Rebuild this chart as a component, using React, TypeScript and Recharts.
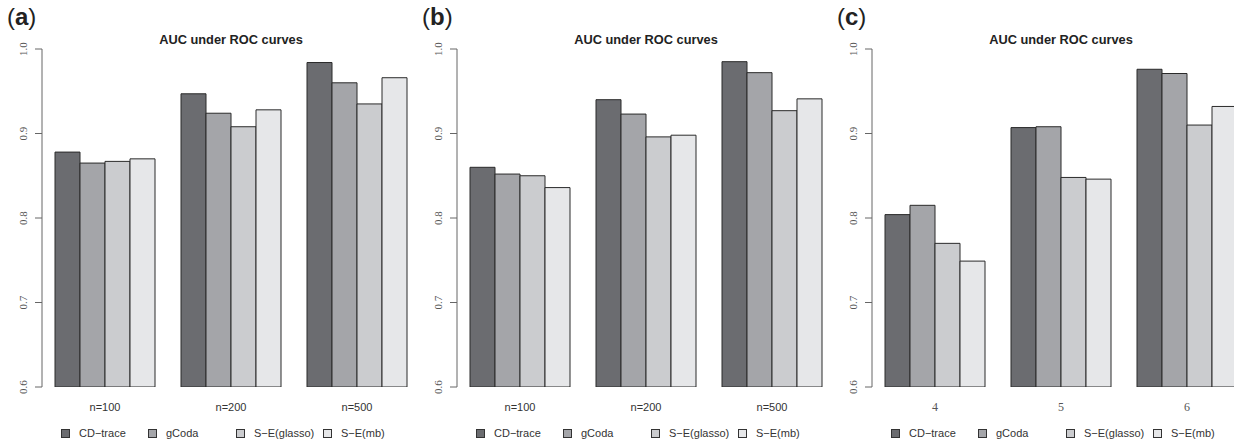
import { BarChart, Bar, XAxis, YAxis } from "recharts";

const seriesNames = ["CD\u2212trace", "gCoda", "S\u2212E(glasso)", "S\u2212E(mb)"];
const seriesKeys = ["cdTrace", "gCoda", "seGlasso", "seMb"];
const seriesColors = ["#6b6c70", "#a4a5a9", "#cbcccf", "#e6e7e9"];

const sampleSizes = ["n=100", "n=200", "n=500"];
const dimensions = ["4", "5", "6"];
const yTicks = [0.6, 0.7, 0.8, 0.9, 1.0];

// panel (a)
const aCdTrace = [0.878, 0.947, 0.984];
const aGCoda = [0.865, 0.924, 0.960];
const aSeGlasso = [0.867, 0.908, 0.935];
const aSeMb = [0.870, 0.928, 0.966];

// panel (b)
const bCdTrace = [0.860, 0.940, 0.985];
const bGCoda = [0.852, 0.923, 0.972];
const bSeGlasso = [0.850, 0.896, 0.927];
const bSeMb = [0.836, 0.898, 0.941];

// panel (c)
const cCdTrace = [0.804, 0.907, 0.976];
const cGCoda = [0.815, 0.908, 0.971];
const cSeGlasso = [0.770, 0.848, 0.910];
const cSeMb = [0.749, 0.846, 0.932];

const buildRows = (cats: string[], cols: number[][]) =>
  cats.map((name, i) => {
    const row: any = { name };
    seriesKeys.forEach((k, j) => (row[k] = cols[j][i]));
    return row;
  });

const panels = [
  { label: "a", left: 0, serifX: false, data: buildRows(sampleSizes, [aCdTrace, aGCoda, aSeGlasso, aSeMb]) },
  { label: "b", left: 415, serifX: false, data: buildRows(sampleSizes, [bCdTrace, bGCoda, bSeGlasso, bSeMb]) },
  { label: "c", left: 830, serifX: true, data: buildRows(dimensions, [cCdTrace, cGCoda, cSeGlasso, cSeMb]) },
];

const SANS = '"Liberation Sans", Arial, sans-serif';
const SERIF = '"Liberation Serif", "DejaVu Serif", serif';

const YTick = ({ x, y, payload }: any) => (
  <text
    x={x - 12}
    y={y}
    transform={`rotate(-90 ${x - 12} ${y})`}
    textAnchor="middle"
    dominantBaseline="central"
    fontFamily={SERIF}
    fontSize={11}
    fill="#555"
  >
    {payload.value.toFixed(1)}
  </text>
);

const makeXTick = (serif: boolean) => ({ x, y, payload }: any) => (
  <text
    x={x}
    y={y + 20}
    textAnchor="middle"
    dominantBaseline="central"
    fontFamily={serif ? SERIF : SANS}
    fontSize={serif ? 12 : 11}
    fill={serif ? "#555" : "#333"}
  >
    {payload.value}
  </text>
);

// legend item offsets relative to the panel's left edge
const legendSquareX = [61, 148, 236, 323];

function Panel({ label, left, serifX, data }: any) {
  return (
    <div style={{ position: "absolute", left, top: 0, width: 430, height: 446 }}>
      <BarChart
        width={430}
        height={446}
        data={data}
        margin={{ top: 49, right: 10, bottom: 29, left: 0 }}
        barCategoryGap={13}
        barGap={0}
      >
        <XAxis
          dataKey="name"
          axisLine={false}
          tickLine={false}
          tickSize={0}
          tickMargin={0}
          height={30}
          tick={makeXTick(serifX)}
        />
        <YAxis
          domain={[0.6, 1]}
          ticks={yTicks}
          width={42}
          allowDataOverflow
          stroke="#666"
          tickSize={7}
          tickMargin={0}
          tick={<YTick />}
        />
        {seriesKeys.map((k, i) => (
          <Bar
            key={k}
            dataKey={k}
            name={seriesNames[i]}
            fill={seriesColors[i]}
            stroke="#2a2a2a"
            strokeWidth={1}
            isAnimationActive={false}
          />
        ))}
      </BarChart>
      <div
        style={{
          position: "absolute",
          left: 42,
          width: 378,
          top: 32,
          textAlign: "center",
          fontFamily: SANS,
          fontWeight: "bold",
          fontSize: 12.8,
          color: "#222",
        }}
      >
        AUC under ROC curves
      </div>
      <div
        style={{
          position: "absolute",
          left: 7,
          top: 3,
          fontFamily: SANS,
          fontSize: 24,
          color: "#222",
          lineHeight: "28px",
        }}
      >
        (<b>{label}</b>)
      </div>
      {seriesNames.map((n, i) => (
        <div
          key={n}
          style={{
            position: "absolute",
            left: legendSquareX[i],
            top: 426,
            height: 14,
            display: "flex",
            alignItems: "center",
            fontFamily: SANS,
            fontSize: 11,
            color: "#333",
            whiteSpace: "nowrap",
          }}
        >
          <span
            style={{
              display: "inline-block",
              width: 7,
              height: 7,
              background: seriesColors[i],
              border: "1px solid #333",
              marginRight: 9,
            }}
          />
          {n}
        </div>
      ))}
    </div>
  );
}

export default function App() {
  return (
    <div
      style={{
        position: "absolute",
        left: 0,
        top: 0,
        width: 1234,
        height: 446,
        overflow: "hidden",
        background: "#fff",
      }}
    >
      {panels.map((p) => (
        <Panel key={p.label} {...p} />
      ))}
    </div>
  );
}
